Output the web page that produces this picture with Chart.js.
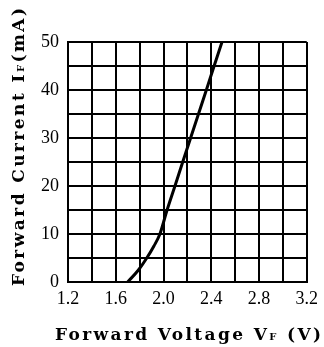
<!DOCTYPE html>
<html>
<head>
<meta charset="utf-8">
<script src="https://cdn.jsdelivr.net/npm/chart.js@4"></script>
<style>
  html, body { margin: 0; padding: 0; background: #fff; }
  #wrap { width: 324px; height: 347px; position: relative; }
</style>
</head>
<body>
<div id="wrap"><canvas id="myChart"></canvas></div>
<script>
// values
const voltage = [1.70, 1.79, 1.86, 1.92, 1.97, 2.03, 2.096, 2.161, 2.227, 2.293, 2.359, 2.424, 2.49]
const current = [0, 2.5, 5, 7.5, 10, 15, 20, 25, 30, 35, 40, 45, 50]
const xLabels = [1.2, 1.6, 2.0, 2.4, 2.8, 3.2]
const yLabels = [0, 10, 20, 30, 40, 50]

const points = voltage.map((v, i) => ({x: v, y: current[i]}))

// draws a title made of parts (small "F" in the middle), stretched to a given width
function drawParts(ctx, parts, x, y, width){
    ctx.letterSpacing = '0px'
    let total = 0, chars = 0
    parts.forEach(p => { ctx.font = p.font; total += ctx.measureText(p.text).width; chars += p.text.length })
    let sp = (width - total) / (chars - 1)
    ctx.letterSpacing = sp + 'px'
    let cx = x - width / 2
    parts.forEach(p => {
        ctx.font = p.font
        ctx.fillText(p.text, cx, y)
        cx += ctx.measureText(p.text).width
    })
}

const titlePlugin = {
    id: 'axisTitles',
    afterDraw(chart){
        const ctx = chart.ctx
        const big = 'bold 17px "DejaVu Serif"'
        const small = 'bold 10px "DejaVu Serif"'
        ctx.save()
        ctx.fillStyle = '#000'
        ctx.textBaseline = 'alphabetic'
        ctx.textAlign = 'left'
        // x title
        drawParts(ctx, [
            {text: 'Forward Voltage V', font: big},
            {text: 'F', font: small},
            {text: ' (V)', font: big}
        ], 188, 340, 266)
        // y title (rotated)
        ctx.translate(24, 147)
        ctx.rotate(-Math.PI / 2)
        drawParts(ctx, [
            {text: 'Forward Current I', font: big},
            {text: 'F', font: small},
            {text: '(mA)', font: big}
        ], 0, 0, 278)
        ctx.restore()
    }
}

const tickFont = {family: '"Liberation Serif"', size: 18}

new Chart(document.getElementById('myChart'), {
    type: 'line',
    data: {
        datasets: [{
            data: points,
            borderColor: '#000',
            borderWidth: 3,
            pointRadius: 0,
            fill: false,
            cubicInterpolationMode: 'monotone'
        }]
    },
    options: {
        responsive: true,
        maintainAspectRatio: false,
        animation: false,
        events: [],
        layout: { padding: { left: 0, top: 42, right: 17, bottom: 0 } },
        plugins: { legend: { display: false }, tooltip: { enabled: false } },
        scales: {
            x: {
                type: 'linear',
                min: 1.2,
                max: 3.2,
                afterFit: s => { s.height = 65 },
                afterBuildTicks: s => {
                    let t = []
                    for(let i = 0; i <= 10; i++) t.push({value: 1.2 + i * 0.2})
                    s.ticks = t
                },
                ticks: {
                    color: '#000',
                    font: tickFont,
                    padding: 6,
                    maxRotation: 0,
                    autoSkip: false,
                    callback: v => {
                        let hit = xLabels.find(l => Math.abs(l - v) < 1e-6)
                        return hit != undefined ? hit.toFixed(1) : ''
                    }
                },
                grid: { color: '#000', lineWidth: 2, drawTicks: false },
                border: { color: '#000', width: 2 }
            },
            y: {
                min: 0,
                max: 50,
                afterFit: s => { s.width = 68 },
                ticks: {
                    stepSize: 5,
                    color: '#000',
                    font: tickFont,
                    padding: 9,
                    autoSkip: false,
                    callback: v => yLabels.includes(v) ? String(v) : ''
                },
                grid: { color: '#000', lineWidth: 2, drawTicks: false },
                border: { color: '#000', width: 2 }
            }
        }
    },
    plugins: [titlePlugin]
})
</script>
</body>
</html>
